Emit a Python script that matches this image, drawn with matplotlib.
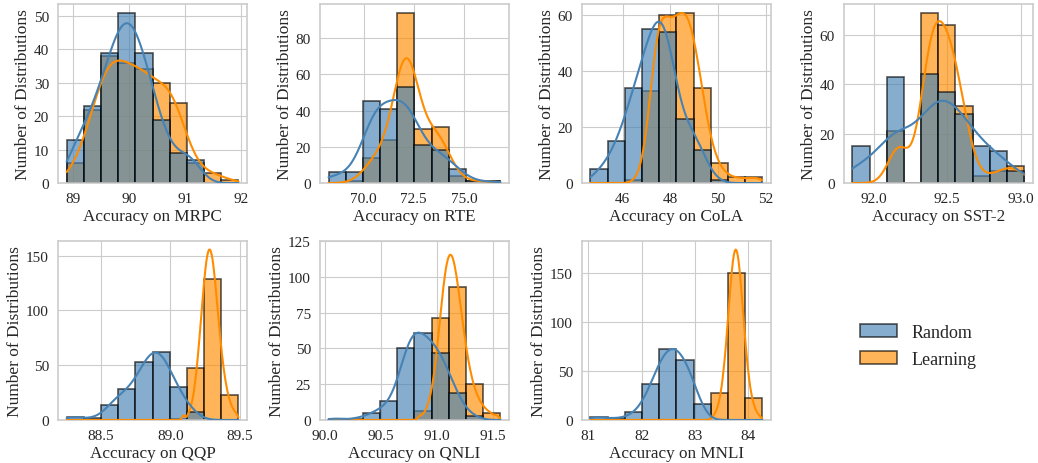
import numpy as np
import matplotlib
matplotlib.use("Agg")
import matplotlib.pyplot as plt
import seaborn as sns
from matplotlib.patches import Patch

sns.set_style("whitegrid")
plt.rcParams['font.family'] = ['Liberation Serif', 'DejaVu Serif']

# ---- data (10 shared bins per task, range = [lo, hi]) ----
tasks = ["MRPC", "RTE", "CoLA", "SST-2", "QQP", "QNLI", "MNLI"]

mrpc_range = [88.88, 91.96]
mrpc_random = [13, 23, 39, 51, 39, 19, 9, 7, 0, 0]
mrpc_learning = [6, 22, 38, 36, 34, 30, 24, 6, 3, 1]

rte_range = [68.25, 76.82]
rte_random = [6, 6, 45, 41, 53, 21, 18, 8, 1, 1]
rte_learning = [0, 1, 14, 24, 94, 30, 31, 4, 1, 1]

cola_range = [44.66, 51.85]
cola_random = [5, 15, 34, 55, 54, 23, 12, 1, 0, 0]
cola_learning = [0, 0, 1, 33, 60, 61, 34, 7, 2, 2]

sst2_range = [91.855, 93.025]
sst2_random = [15, 0, 43, 0, 44, 37, 28, 15, 13, 5]
sst2_learning = [0, 0, 21, 0, 69, 64, 31, 3, 5, 7]

qqp_range = [88.254, 89.49]
qqp_random = [3, 2, 14, 28, 53, 62, 30, 7, 0, 0]
qqp_learning = [0, 0, 0, 0, 0, 0, 1, 47, 129, 23]

qnli_range = [90.03, 91.57]
qnli_random = [1, 1, 5, 13, 50, 61, 47, 19, 3, 0]
qnli_learning = [0, 0, 0, 0, 0, 6, 71, 93, 25, 5]

mnli_range = [81.04, 84.26]
mnli_random = [3, 2, 8, 37, 72, 61, 16, 0, 0, 0]
mnli_learning = [0, 0, 0, 0, 0, 0, 0, 28, 150, 22]

xticks_list = [[89, 90, 91, 92], [70.0, 72.5, 75.0], [46, 48, 50, 52],
               [92.0, 92.5, 93.0], [88.5, 89.0, 89.5], [90.0, 90.5, 91.0, 91.5],
               [81, 82, 83, 84]]
xtick_fmt = ["%d", "%.1f", "%d", "%.1f", "%.1f", "%.1f", "%d"]
yticks_list = [[0, 10, 20, 30, 40, 50], [0, 20, 40, 60, 80], [0, 20, 40, 60],
               [0, 20, 40, 60], [0, 50, 100, 150], [0, 25, 50, 75, 100, 125],
               [0, 50, 100, 150]]

ranges = [mrpc_range, rte_range, cola_range, sst2_range, qqp_range, qnli_range, mnli_range]
randoms = [mrpc_random, rte_random, cola_random, sst2_random, qqp_random, qnli_random, mnli_random]
learnings = [mrpc_learning, rte_learning, cola_learning, sst2_learning, qqp_learning,
             qnli_learning, mnli_learning]

# kde smoothing adjustments (style) per task: (random, learning)
bw_adjust = [(1.0, 1.0), (1.3, 1.5), (1.0, 0.85), (1.3, 1.1),
             (1.0, 0.5), (1.0, 0.55), (1.0, 1.15)]

series_names = ["Random", "Learning"]
blue = "#4682B4"
orange = "#FF8C00"
ALPHA = 0.65

NB = 10
FINE = 100


def natural_spline(yk, t):
    """natural cubic spline through knots at 0.5, 1.5, ... (unit spacing)"""
    n = len(yk)
    A = np.zeros((n, n))
    r = np.zeros(n)
    A[0, 0] = A[-1, -1] = 1.0
    for i in range(1, n - 1):
        A[i, i - 1], A[i, i], A[i, i + 1] = 1.0, 4.0, 1.0
        r[i] = 6.0 * (yk[i + 1] - 2 * yk[i] + yk[i - 1])
    M = np.linalg.solve(A, r)
    xk = np.arange(n) + 0.5
    out = np.empty_like(t)
    for j, x in enumerate(t):
        if x < xk[0]:
            s = (yk[1] - yk[0]) - M[1] / 6.0
            out[j] = yk[0] + s * (x - xk[0])
        elif x > xk[-1]:
            s = (yk[-1] - yk[-2]) + M[-2] / 6.0
            out[j] = yk[-1] + s * (x - xk[-1])
        else:
            i = min(int(x - xk[0]), n - 2)
            a = xk[i + 1] - x
            b = x - xk[i]
            out[j] = (M[i] * a ** 3 + M[i + 1] * b ** 3) / 6.0 \
                + (yk[i] - M[i] / 6.0) * a + (yk[i + 1] - M[i + 1] / 6.0) * b
    return out


def reconstruct(counts):
    """smooth, bin-mass preserving positions (in bin units) for the binned values"""
    c = np.asarray(counts, float)
    nz = np.nonzero(c > 0)[0]
    first, last = nz[0], nz[-1]
    interior_gap = [i for i in range(first, last + 1) if c[i] == 0]
    t = (np.arange(NB * FINE) + 0.5) / FINE
    v = np.log(np.where(c > 0, c, 0.3))

    def fill_gaps(v):
        for i in interior_gap:
            lft = max(j for j in nz if j < i)
            rgt = min(j for j in nz if j > i)
            w = (i - lft) / (rgt - lft)
            v[i] = (1 - w) * v[lft] + w * v[rgt]
        return v

    v = fill_gaps(v)
    for _ in range(150):
        f = np.exp(natural_spline(v, t))
        m = f.reshape(NB, FINE).mean(axis=1)
        upd = np.where(c > 0, np.log(np.where(c > 0, c, 1) / m), 0.0)
        v = fill_gaps(v + 0.8 * upd)
    f = np.exp(natural_spline(v, t))
    pts = []
    for i in nz:
        ci = int(c[i])
        fb = f[i * FINE:(i + 1) * FINE]
        cdf = np.concatenate([[0.0], np.cumsum(fb)])
        cdf /= cdf[-1]
        pos = np.linspace(0, 1, FINE + 1)
        q = (np.arange(ci) + 0.5) / ci
        pts.extend(i + np.interp(q, cdf, pos))
    return np.array(pts)


def kde_curve(samples, grid, binw, adj):
    n = len(samples)
    bw = samples.std(ddof=1) * n ** (-1 / 5) * adj
    z = (grid[:, None] - samples[None, :]) / bw
    dens = np.exp(-0.5 * z ** 2).sum(axis=1) / (n * bw * np.sqrt(2 * np.pi))
    return dens * n * binw


fig = plt.figure(figsize=(10.38, 4.64), dpi=100)
gs = fig.add_gridspec(2, 4, left=0.0559, right=0.995, top=0.989, bottom=0.0927,
                      wspace=0.386, hspace=0.324)

for k, name in enumerate(tasks):
    ax = fig.add_subplot(gs[k // 4, k % 4])
    lo, hi = ranges[k]
    edges = np.linspace(lo, hi, NB + 1)
    binw = edges[1] - edges[0]
    grid = np.linspace(lo, hi, 200)
    # learning first (below), random on top
    for counts, col in [(learnings[k], orange), (randoms[k], blue)]:
        ax.bar(edges[:-1], counts, width=binw, align="edge", color=col, alpha=ALPHA,
               edgecolor="black", linewidth=1.2, zorder=2)
    for counts, col, adj in [(learnings[k], orange, bw_adjust[k][1]),
                             (randoms[k], blue, bw_adjust[k][0])]:
        s = lo + reconstruct(counts) * binw
        ax.plot(grid, kde_curve(s, grid, binw, adj), color=col, linewidth=1.5, zorder=3)
    ax.set_xticks(xticks_list[k])
    ax.set_xticklabels([xtick_fmt[k] % v for v in xticks_list[k]])
    ax.set_yticks(yticks_list[k])
    ax.margins(x=0.05)
    ax.set_xlabel("Accuracy on " + name, fontsize=12.3, labelpad=2)
    ax.set_ylabel("Number of Distributions", fontsize=12.5, labelpad=2)
    ax.tick_params(labelsize=11, pad=3)
    ax.set_axisbelow(True)
    for sp in ax.spines.values():
        sp.set_color("#cccccc")
        sp.set_linewidth(1.2)

handles = [Patch(facecolor=blue, alpha=ALPHA, edgecolor="black", linewidth=1.2),
           Patch(facecolor=orange, alpha=ALPHA, edgecolor="black", linewidth=1.2)]
fig.legend(handles, series_names, loc="center", bbox_to_anchor=(0.885, 0.252),
           frameon=False, fontsize=13, handlelength=2.05, handleheight=0.75,
           handletextpad=0.8, labelspacing=0.55)

fig.savefig("out.png", dpi=100)
